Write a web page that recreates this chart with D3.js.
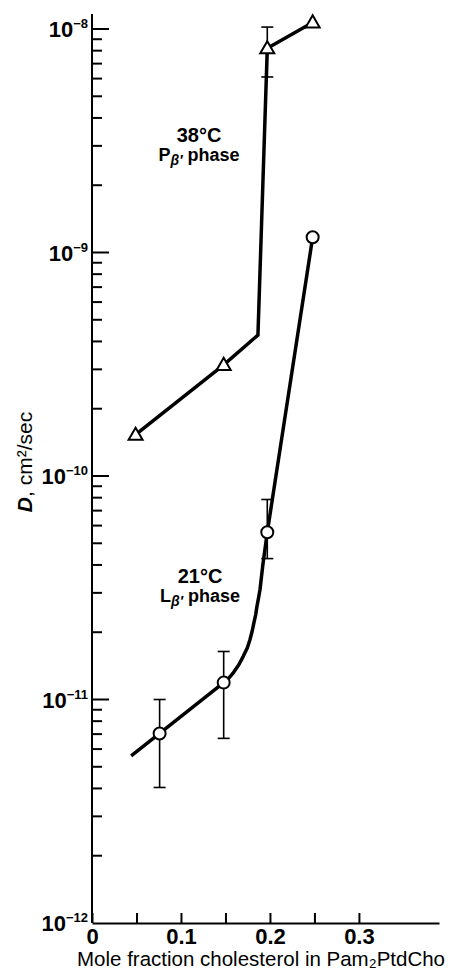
<!DOCTYPE html>
<html>
<head>
<meta charset="utf-8">
<script src="https://cdn.jsdelivr.net/npm/d3@7"></script>
<style>
  body { margin: 0; background: #fff; }
  text { font-family: "Liberation Sans", Arial, sans-serif; fill: #000; }
</style>
</head>
<body>
<div id="canvas"></div>
<script>
// 38 C, P beta' phase (triangles)
const tri38X = [0.049, 0.148, 0.197, 0.248];
const tri38D = [1.53e-10, 3.14e-10, 8.2e-9, 1.07e-8];
const tri38ErrLo = [null, null, 6.1e-9, null];
const tri38ErrHi = [null, null, 1.02e-8, null];
const line38X = [0.049, 0.148, 0.1865, 0.197, 0.248];
const line38D = [1.53e-10, 3.14e-10, 4.27e-10, 8.2e-9, 1.07e-8];

// 21 C, L beta' phase (circles)
const circ21X = [0.076, 0.148, 0.197, 0.248];
const circ21D = [7.05e-12, 1.19e-11, 5.6e-11, 1.17e-9];
const circ21ErrLo = [4.04e-12, 6.7e-12, 4.27e-11, null];
const circ21ErrHi = [1.0e-11, 1.64e-11, 7.85e-11, null];
const line21X = [0.044, 0.076, 0.148, 0.154, 0.159, 0.165, 0.170, 0.1745, 0.1775, 0.180, 0.182, 0.1840, 0.1854, 0.1872, 0.1888, 0.192, 0.197, 0.248];
const line21D = [5.6e-12, 7.05e-12, 1.19e-11, 1.25e-11, 1.32e-11, 1.43e-11, 1.56e-11, 1.70e-11, 1.85e-11, 2.02e-11, 2.21e-11, 2.40e-11, 2.61e-11, 2.85e-11, 3.1e-11, 4.0e-11, 5.6e-11, 1.17e-9];

// ticks
const xTicks = [0, 0.05, 0.1, 0.15, 0.2, 0.25, 0.3];
const xLabels = ["0", "", "0.1", "", "0.2", "", "0.3"];
const yExponents = [-8, -9, -10, -11, -12];

const width = 451;
const height = 970;

const svg = d3.select("#canvas").append("svg")
  .attr("width", width)
  .attr("height", height);

const x = d3.scaleLinear().domain([0, 0.39]).range([92, 439]);
const y = d3.scaleLog().domain([1e-12, 1e-8]).range([923, 29]);
const yTop = 14;

// y axis: majors and minors, ticks pointing inward
const majors = yExponents.map(e => Math.pow(10, e));
const minors = [];
yExponents.slice(1).forEach(e => {
  for (let m = 2; m <= 9; m++) minors.push(m * Math.pow(10, e));
});

const yAxis = svg.append("g").attr("transform", `translate(${x(0)},0)`);
yAxis.append("line")
  .attr("x1", 0).attr("x2", 0)
  .attr("y1", yTop).attr("y2", y(1e-12))
  .attr("stroke", "#000").attr("stroke-width", 2);
yAxis.selectAll(".major").data(majors.filter(d => d > 1e-12)).enter().append("line")
  .attr("x1", 0).attr("x2", 17)
  .attr("y1", d => y(d)).attr("y2", d => y(d))
  .attr("stroke", "#000").attr("stroke-width", 2);
yAxis.selectAll(".minor").data(minors).enter().append("line")
  .attr("x1", 0).attr("x2", 10)
  .attr("y1", d => y(d)).attr("y2", d => y(d))
  .attr("stroke", "#000").attr("stroke-width", 2);

const yLab = yAxis.selectAll(".ylab").data(yExponents).enter().append("text")
  .attr("x", -4)
  .attr("y", e => y(Math.pow(10, e)) + 8)
  .attr("text-anchor", "end")
  .style("font-weight", "bold");
yLab.append("tspan").style("font-size", "22px").text("10");
yLab.append("tspan").style("font-size", "13px").attr("dy", -9).text(e => "\u2212" + (-e));

// x axis: ticks pointing up, labels below
const xAxis = svg.append("g")
  .attr("transform", `translate(0,${y(1e-12)})`)
  .call(d3.axisBottom(x)
    .tickValues(xTicks)
    .tickSizeInner(-10)
    .tickSizeOuter(0)
    .tickPadding(20)
    .tickFormat((d, i) => xLabels[i]));
xAxis.select(".domain").attr("stroke-width", 2);
xAxis.selectAll(".tick line").attr("stroke-width", 2);
xAxis.selectAll(".tick text")
  .attr("y", 0)
  .attr("dy", 21)
  .style("font-size", "22px")
  .style("font-weight", "bold")
  .style("font-family", "Liberation Sans, Arial, sans-serif");

// axis titles
svg.append("text")
  .attr("x", 77).attr("y", 966)
  .style("font-size", "20.5px")
  .text("Mole fraction cholesterol in Pam\u2082PtdCho");

const yt = svg.append("text")
  .attr("transform", "translate(32,462) rotate(-90)")
  .attr("text-anchor", "middle")
  .style("font-size", "21px");
yt.append("tspan").style("font-style", "italic").style("font-weight", "bold").text("D");
yt.append("tspan").text(", cm\u00B2/sec");

// curves
const line = d3.line().x(d => x(d[0])).y(d => y(d[1]));
svg.append("path")
  .datum(d3.zip(line38X, line38D))
  .attr("d", line)
  .attr("fill", "none").attr("stroke", "#000").attr("stroke-width", 3.5)
  .attr("stroke-linejoin", "miter");
svg.append("path")
  .datum(d3.zip(line21X, line21D))
  .attr("d", line)
  .attr("fill", "none").attr("stroke", "#000").attr("stroke-width", 3.5)
  .attr("stroke-linejoin", "round");

// error bars
function errorBars(xs, lo, hi) {
  const rows = xs.map((v, i) => ({ x: v, lo: lo[i], hi: hi[i] })).filter(d => d.lo != null);
  const g = svg.append("g").attr("stroke", "#000").attr("stroke-width", 1.6);
  g.selectAll(".v").data(rows).enter().append("line")
    .attr("x1", d => x(d.x)).attr("x2", d => x(d.x))
    .attr("y1", d => y(d.lo)).attr("y2", d => y(d.hi));
  ["lo", "hi"].forEach(k => {
    g.selectAll(".c" + k).data(rows).enter().append("line")
      .attr("x1", d => x(d.x) - 6).attr("x2", d => x(d.x) + 6)
      .attr("y1", d => y(d[k])).attr("y2", d => y(d[k]));
  });
}
errorBars(tri38X, tri38ErrLo, tri38ErrHi);
errorBars(circ21X, circ21ErrLo, circ21ErrHi);

// markers
svg.selectAll(".tri").data(d3.zip(tri38X, tri38D)).enter().append("path")
  .attr("d", d3.symbol().type(d3.symbolTriangle).size(85))
  .attr("transform", d => `translate(${x(d[0])},${y(d[1]) + 1})`)
  .attr("fill", "#fff").attr("stroke", "#000").attr("stroke-width", 2);
svg.selectAll(".circ").data(d3.zip(circ21X, circ21D)).enter().append("circle")
  .attr("cx", d => x(d[0])).attr("cy", d => y(d[1]))
  .attr("r", 6)
  .attr("fill", "#fff").attr("stroke", "#000").attr("stroke-width", 2);

// phase annotations
function phaseLabel(cx, by, temp, letter) {
  svg.append("text")
    .attr("x", cx).attr("y", by)
    .attr("text-anchor", "middle")
    .style("font-size", "20px")
    .style("font-weight", "bold")
    .text(temp);
  const t = svg.append("text")
    .attr("x", cx).attr("y", by + 19)
    .attr("text-anchor", "middle")
    .style("font-size", "18px")
    .style("font-weight", "bold");
  t.append("tspan").text(letter);
  t.append("tspan").attr("dy", 4).style("font-size", "14px").style("font-style", "italic").text("\u03B2\u2032");
  t.append("tspan").attr("dy", -4).text(" phase");
}
phaseLabel(199, 142, "38\u00B0C", "P");
phaseLabel(200, 583, "21\u00B0C", "L");
</script>
</body>
</html>
